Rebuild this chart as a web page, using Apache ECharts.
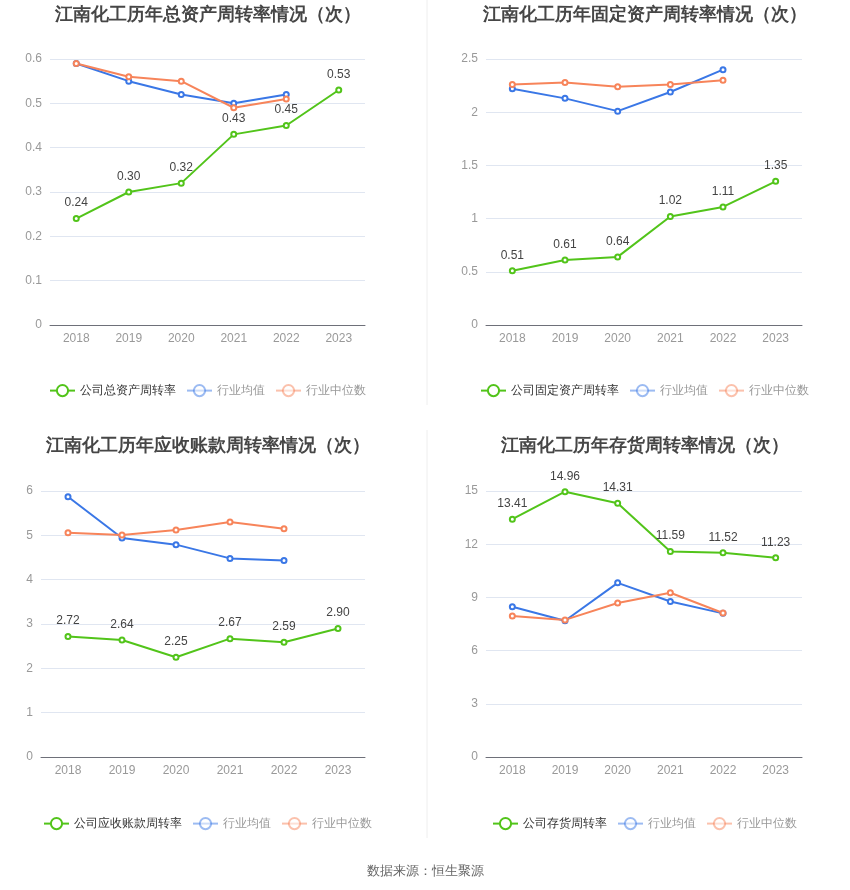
<!DOCTYPE html>
<html>
<head>
<meta charset="utf-8">
<script src="https://cdn.jsdelivr.net/npm/echarts@6/dist/echarts.min.js"></script>
<style>
  html, body { margin: 0; padding: 0; background: #fff; }
  #main { width: 850px; height: 890px; }
</style>
</head>
<body>
<div id="main"></div>
<script>
// years on the x axis
const years = ["2018", "2019", "2020", "2021", "2022", "2023"];

// total asset turnover
const totalCompany = [0.24, 0.30, 0.32, 0.43, 0.45, 0.53];
const totalAvg = [0.59, 0.55, 0.52, 0.50, 0.52];
const totalMedian = [0.59, 0.56, 0.55, 0.49, 0.51];

// fixed asset turnover
const fixedCompany = [0.51, 0.61, 0.64, 1.02, 1.11, 1.35];
const fixedAvg = [2.22, 2.13, 2.01, 2.19, 2.40];
const fixedMedian = [2.26, 2.28, 2.24, 2.26, 2.30];

// receivables turnover
const recvCompany = [2.72, 2.64, 2.25, 2.67, 2.59, 2.90];
const recvAvg = [5.87, 4.94, 4.79, 4.48, 4.43];
const recvMedian = [5.06, 5.01, 5.12, 5.30, 5.15];

// inventory turnover
const invCompany = [13.41, 14.96, 14.31, 11.59, 11.52, 11.23];
const invAvg = [8.47, 7.68, 9.82, 8.77, 8.10];
const invMedian = [7.95, 7.73, 8.68, 9.26, 8.12];

const GREEN = "#52c41a";
const BLUE = "#3a77e6";
const ORANGE = "#f7845a";

// one block per panel
const panels = [
  { title: "江南化工历年总资产周转率情况（次）", name: "公司总资产周转率",
    company: totalCompany, avg: totalAvg, median: totalMedian,
    max: 0.6, interval: 0.1,
    grid: { left: 50, top: 59, width: 315, height: 266 },
    titleX: 203, titleY: 1, legendX: 44, legendY: 379 },
  { title: "江南化工历年固定资产周转率情况（次）", name: "公司固定资产周转率",
    company: fixedCompany, avg: fixedAvg, median: fixedMedian,
    max: 2.5, interval: 0.5,
    grid: { left: 486, top: 59, width: 316, height: 266 },
    titleX: 640, titleY: 1, legendX: 475, legendY: 379 },
  { title: "江南化工历年应收账款周转率情况（次）", name: "公司应收账款周转率",
    company: recvCompany, avg: recvAvg, median: recvMedian,
    max: 6, interval: 1,
    grid: { left: 41, top: 491, width: 324, height: 266 },
    titleX: 203, titleY: 432, legendX: 38, legendY: 812 },
  { title: "江南化工历年存货周转率情况（次）", name: "公司存货周转率",
    company: invCompany, avg: invAvg, median: invMedian,
    max: 15, interval: 3,
    grid: { left: 486, top: 491, width: 316, height: 266 },
    titleX: 640, titleY: 432, legendX: 487, legendY: 812 }
];

const chart = echarts.init(document.getElementById("main"));

const option = {
  backgroundColor: "#fff",
  animation: false,
  title: [],
  legend: [],
  grid: [],
  xAxis: [],
  yAxis: [],
  series: [],
  graphic: [
    { type: "line", shape: { x1: 427, y1: 0, x2: 427, y2: 405 }, style: { stroke: "#eeeeee", lineWidth: 1 } },
    { type: "line", shape: { x1: 427, y1: 430, x2: 427, y2: 838 }, style: { stroke: "#eeeeee", lineWidth: 1 } },
    { type: "text", left: "center", top: 865,
      style: { text: "数据来源：恒生聚源", fill: "#666", fontSize: 13 } }
  ]
};

const lineSeries = (name, data, color, idx, showLabel) => ({
  name: name,
  type: "line",
  xAxisIndex: idx,
  yAxisIndex: idx,
  data: data,
  symbol: "emptyCircle",
  symbolSize: 5,
  lineStyle: { width: 2, color: color },
  itemStyle: { color: color },
  label: showLabel ? {
    show: true, position: "top", distance: 6, color: "#444", fontSize: 12,
    formatter: p => p.value.toFixed(2)
  } : { show: false },
  z: showLabel ? 3 : 2
});

panels.forEach((p, i) => {
  option.title.push({
    text: p.title, left: p.titleX, top: p.titleY, textAlign: "center",
    textStyle: { fontSize: 18, fontWeight: "bold", color: "#464646" }
  });
  option.legend.push({
    left: p.legendX, top: p.legendY, itemGap: 10, itemWidth: 25, itemHeight: 14,
    textStyle: { fontSize: 12, color: "#333" },
    data: [
      { name: p.name, textStyle: { color: "#333" } },
      { name: "行业均值", itemStyle: { opacity: 0.5 }, lineStyle: { opacity: 0.5 }, textStyle: { color: "#999" } },
      { name: "行业中位数", itemStyle: { opacity: 0.5 }, lineStyle: { opacity: 0.5 }, textStyle: { color: "#999" } }
    ]
  });
  option.grid.push(Object.assign({ containLabel: false }, p.grid));
  option.xAxis.push({
    type: "category", gridIndex: i, data: years,
    axisTick: { alignWithLabel: true },
    axisLine: { lineStyle: { color: "#6e7079" } },
    axisLabel: { color: "#999", fontSize: 12, margin: 8 }
  });
  option.yAxis.push({
    type: "value", gridIndex: i, min: 0, max: p.max, interval: p.interval,
    axisLabel: { color: "#999", fontSize: 12, margin: 8 },
    splitLine: { lineStyle: { color: "#e0e6f1" } }
  });
  option.series.push(lineSeries("行业均值", p.avg, BLUE, i, false));
  option.series.push(lineSeries("行业中位数", p.median, ORANGE, i, false));
  option.series.push(lineSeries(p.name, p.company, GREEN, i, true));
});

chart.setOption(option);
</script>
</body>
</html>
